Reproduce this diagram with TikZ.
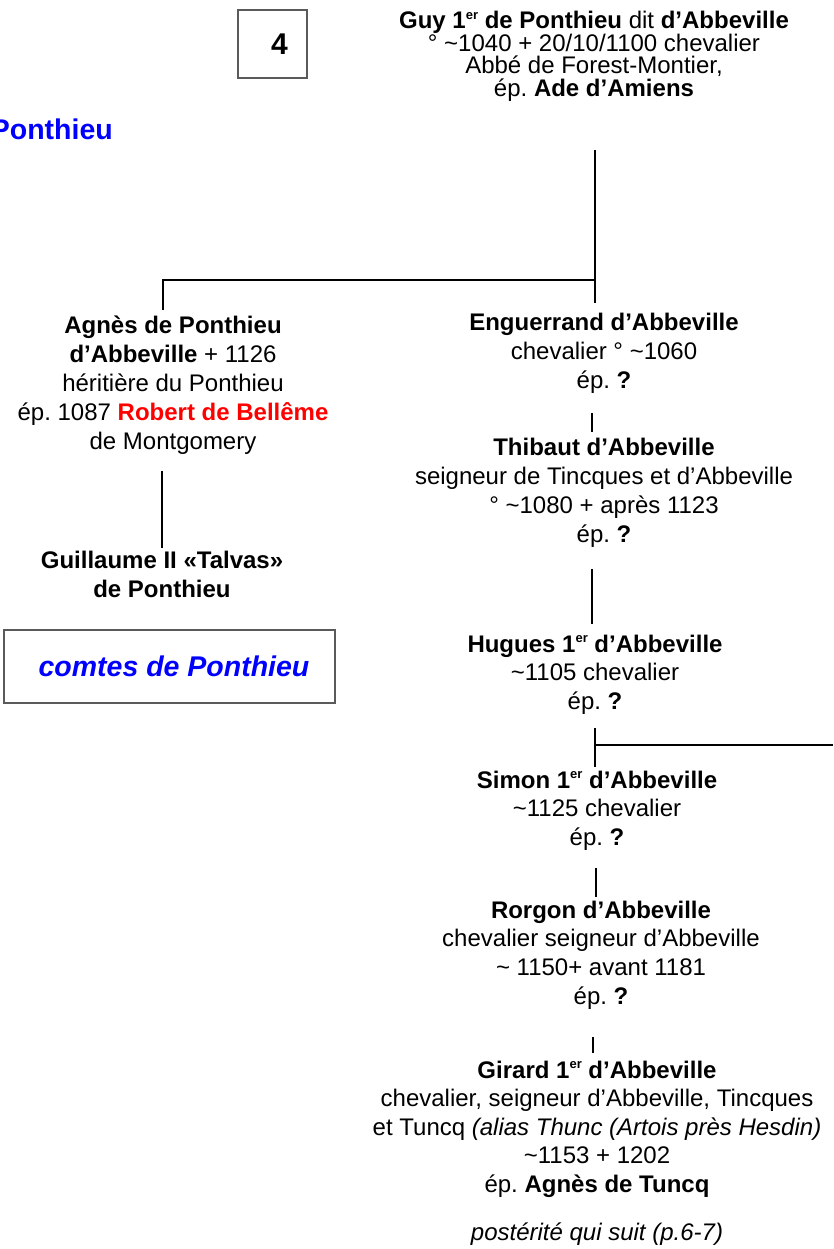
\documentclass[tikz,border=0pt]{standalone}
\usepackage{fontspec}
\setmainfont{Liberation Sans}
\frenchspacing
\definecolor{tblue}{RGB}{0,0,255}
\definecolor{tred}{RGB}{255,0,0}
\definecolor{boxgray}{RGB}{90,90,90}
\newcommand\pblock[2]{\vtop{\baselineskip=#1\lineskiplimit=-100pt\lineskip=0pt\halign{\hfil##\hfil\cr#2\crcr}}}
\newcommand\supr[1]{\raisebox{9.5pt}{\fontsize{13}{13}\selectfont #1}}
\begin{document}
\begin{tikzpicture}[x=1pt,y=-1pt,
  pnode/.style={anchor=base, inner sep=0pt, font=\fontsize{24}{28}\selectfont},
  link/.style={line width=2pt, draw=black},
  framebox/.style={draw=boxgray, line width=1.3pt, inner sep=0pt}]
\useasboundingbox (0,0) rectangle (833,1249);

% page number box
\node[framebox, minimum width=69pt, minimum height=68pt, font=\fontsize{30}{32}\selectfont\bfseries] (num) at (272.5,44) {\hspace*{14pt}4};

% title, cut off at the left edge as in the reference
\node[anchor=base east, inner sep=0pt, text=tblue, font=\fontsize{28.5}{32}\selectfont\bfseries] (titre) at (113,140) {Ponthieu};

% persons
\node[pnode] (guy) at (594,29) {\pblock{22.5pt}{%
  \textbf{Guy 1\supr{er} de Ponthieu} dit \textbf{d’Abbeville}\cr
  ° \textasciitilde1040 + 20/10/1100 chevalier\cr
  Abbé de Forest-Montier,\cr
  ép. \textbf{Ade d’Amiens}}};

\node[pnode] (agnes) at (173,333) {\pblock{29pt}{%
  \textbf{Agnès de Ponthieu}\cr
  \textbf{d’Abbeville} + 1126\cr
  héritière du Ponthieu\cr
  ép. 1087 \textcolor{tred}{\textbf{Robert de Bellême}}\cr
  de Montgomery}};

\node[pnode] (guillaume) at (162,568) {\pblock{29pt}{%
  \textbf{Guillaume II «Talvas»}\cr
  \textbf{de Ponthieu}}};

\node[framebox, minimum width=331pt, minimum height=73pt, text=tblue, font=\fontsize{28.5}{32}\selectfont\bfseries\itshape] (comtes) at (169.5,666.5) {\hspace*{9pt}comtes de Ponthieu};

\node[pnode] (enguerrand) at (604,330) {\pblock{29pt}{%
  \textbf{Enguerrand d’Abbeville}\cr
  chevalier ° \textasciitilde1060\cr
  ép. \textbf{?}}};

\node[pnode] (thibaut) at (604,455) {\pblock{29pt}{%
  \textbf{Thibaut d’Abbeville}\cr
  seigneur de Tincques et d’Abbeville\cr
  ° \textasciitilde1080 + après 1123\cr
  ép. \textbf{?}}};

\node[pnode] (hugues) at (595,652) {\pblock{28.5pt}{%
  \textbf{Hugues 1\supr{er} d’Abbeville}\cr
  \textasciitilde1105 chevalier\cr
  ép. \textbf{?}}};

\node[pnode] (simon) at (597,788) {\pblock{28.5pt}{%
  \textbf{Simon 1\supr{er} d’Abbeville}\cr
  \textasciitilde1125 chevalier\cr
  ép. \textbf{?}}};

\node[pnode] (rorgon) at (601,918) {\pblock{28.7pt}{%
  \textbf{Rorgon d’Abbeville}\cr
  chevalier seigneur d’Abbeville\cr
  \textasciitilde{} 1150+ avant 1181\cr
  ép. \textbf{?}}};

\node[pnode] (girard) at (597,1078) {\pblock{28.5pt}{%
  \textbf{Girard 1\supr{er} d’Abbeville}\cr
  chevalier, seigneur d’Abbeville, Tincques\cr
  et Tuncq \textit{(alias Thunc (Artois près Hesdin)}\cr
  \textasciitilde1153 + 1202\cr
  ép. \textbf{Agnès de Tuncq}}};

\node[pnode] (suite) at (597,1240) {\textit{postérité qui suit (p.6-7)}};

% connector points
\coordinate (g1) at (595,150);
\coordinate (gj) at (595,280);
\coordinate (g2) at (595,303);
\coordinate (aj) at (163,280);
\coordinate (a1) at (163,310);
\coordinate (e1) at (592,413);
\coordinate (e2) at (592,432);
\coordinate (ag1) at (162,471);
\coordinate (ag2) at (162,548);
\coordinate (t1) at (592,569);
\coordinate (t2) at (592,624);
\coordinate (h1) at (595,728);
\coordinate (hj) at (595,745);
\coordinate (h2) at (595,767);
\coordinate (hr) at (833,745);
\coordinate (s1) at (596,868);
\coordinate (s2) at (596,897);
\coordinate (r1) at (593,1037);
\coordinate (r2) at (593,1053);

\draw[link] (g1) -- (g2);
\draw[link] (gj) -- (aj) -- (a1);
\draw[link] (e1) -- (e2);
\draw[link] (ag1) -- (ag2);
\draw[link] (t1) -- (t2);
\draw[link] (h1) -- (h2);
\draw[link] (hj) -- (hr);
\draw[link] (s1) -- (s2);
\draw[link] (r1) -- (r2);
\end{tikzpicture}
\end{document}
